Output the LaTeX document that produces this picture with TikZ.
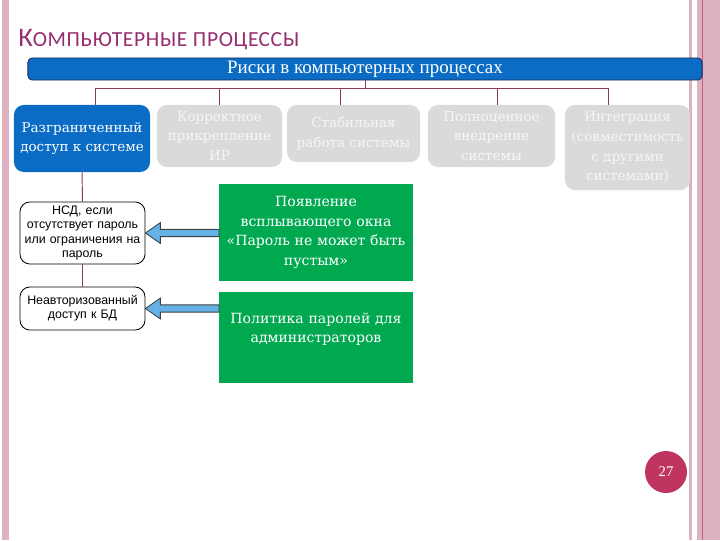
\documentclass[tikz,border=0pt]{standalone}
\usepackage{fontspec}
\usepackage{tikz}
\usetikzlibrary{positioning,calc}
\newfontfamily\slabfont{DejaVu Serif}
\newfontfamily\barfont{Liberation Serif}
\newfontfamily\smallfont{Liberation Sans}
\newfontfamily\titlefont[LetterSpace=3]{Carlito}
\definecolor{SlideBlue}{RGB}{10,108,196}
\definecolor{SlideNavy}{RGB}{30,45,85}
\definecolor{SlideGreen}{RGB}{0,168,80}
\definecolor{SlideGrey}{RGB}{218,218,218}
\definecolor{GreyText}{RGB}{246,246,246}
\definecolor{ArrowBlue}{RGB}{100,178,230}
\definecolor{LinkPlum}{RGB}{140,60,95}
\definecolor{TitlePlum}{RGB}{150,45,110}
\definecolor{EdgePink}{RGB}{220,178,192}
\definecolor{EdgeRose}{RGB}{190,95,125}
\definecolor{PageRed}{RGB}{192,52,96}
\newcommand{\blockarrow}[2]{%
  \draw[fill=ArrowBlue,draw=black!75,line width=0.6pt] let \p1=(#1.west), \p2=(#2.east) in
    (\x1,\y2+2.6pt) -- (\x2+10.6pt,\y2+2.6pt) -- (\x2+10.6pt,\y2+7.4pt) -- (\x2,\y2)
    -- (\x2+10.6pt,\y2-7.4pt) -- (\x2+10.6pt,\y2-2.6pt) -- (\x1,\y2-2.6pt) -- cycle;}

\begin{document}
\begin{tikzpicture}[x=0.025cm,y=-0.025cm,
  link/.style={LinkPlum,line width=0.7pt},
  topbox/.style={fill=SlideGrey,rounded corners=7pt,align=center,text=GreyText,font=\slabfont\fontsize{9.6}{14}\selectfont,inner sep=1pt},
  riskbox/.style={draw=black,fill=white,rounded corners=7pt,line width=0.6pt,align=center,text width=3.05cm,minimum width=3.125cm,font=\smallfont\fontsize{8.8}{10.2}\selectfont,inner sep=1pt},
  greenbox/.style={fill=SlideGreen,text=white,align=center,minimum width=4.7cm,text width=4.6cm,font=\slabfont\fontsize{10}{14}\selectfont}]
\useasboundingbox (0,0) rectangle (720,540);
\fill[white] (0,0) rectangle (720,540);
% slide edges
\fill[EdgePink] (2,0) rectangle (9,540);
\fill[EdgePink] (689,0) rectangle (692,540);
\fill[EdgePink] (697,0) rectangle (720,540);
\draw[EdgeRose,line width=0.6pt] (702,0) -- (702,540);

\node[anchor=base west,text=TitlePlum,font=\titlefont,inner sep=0pt] (title) at (18,46) {{\fontsize{19}{20}\selectfont К}{\fontsize{15.3}{16}\selectfont ОМПЬЮТЕРНЫЕ ПРОЦЕССЫ}};

\node[fill=SlideBlue,draw=SlideNavy,line width=0.6pt,rounded corners=3pt,minimum width=16.85cm,minimum height=0.55cm,inner sep=0pt,text=white,font=\barfont\fontsize{13.5}{14}\selectfont] (bar) at (365,69) {Риски в компьютерных процессах};

\node[fill=SlideBlue,rounded corners=7pt,minimum width=3.4cm,minimum height=1.675cm,align=center,text=white,font=\slabfont\fontsize{9.6}{14}\selectfont,inner sep=1pt] (r1) at (82,138.5) {Разграниченный\\доступ к системе};
\node[topbox,minimum width=3.125cm,minimum height=1.55cm] (r2) at (219.5,136) {Корректное\\прикрепление\\ИР};
\node[topbox,minimum width=3.325cm,minimum height=1.425cm] (r3) at (353.5,133.5) {Стабильная\\работа системы};
\node[topbox,minimum width=3.175cm,minimum height=1.55cm] (r4) at (491.5,136) {Полноценное\\внедрение\\системы};
\node[topbox,minimum width=3.125cm,minimum height=2.125cm] (r5) at (627.5,147.5) {Интеграция\\(совместимость\\с другими\\системами)};

\coordinate (hub) at (365,88);
\draw[link] (bar.south) -- (hub);
\draw[link] (hub) -| ($(r1.north)+(13,0)$);
\draw[link] (hub) -| (r2.north);
\draw[link] (hub) -| ($(r3.north)+(-13.5,0)$);
\draw[link] (hub) -| ($(r4.north)+(5.5,0)$);
\draw[link] (hub) -| ($(r5.north)+(-19.5,0)$);

\node[riskbox,minimum height=1.55cm] (n1) at (82.5,233) {НСД, если\\отсутствует пароль\\или ограничения на\\пароль};
\node[riskbox,minimum height=1.075cm] (n2) at (82.5,308.5) {Неавторизованный\\доступ к БД};
\draw[link] (r1) -- (n1);
\draw[link] (n1) -- (n2);

\node[greenbox,minimum height=2.425cm] (g1) at (316,232.5) {Появление\\всплывающего окна\\«Пароль не может быть\\пустым»};
\node[greenbox,minimum height=2.275cm] (g2) at (316,337.5) {Политика паролей для\\администраторов\\~};

\blockarrow{g1}{n1}
\blockarrow{g2}{n2}

\node[circle,fill=PageRed,minimum size=1.05cm,inner sep=0pt,text=white,font=\barfont\fontsize{10.5}{11}\selectfont] (page) at (666,472) {27};
\end{tikzpicture}
\end{document}
